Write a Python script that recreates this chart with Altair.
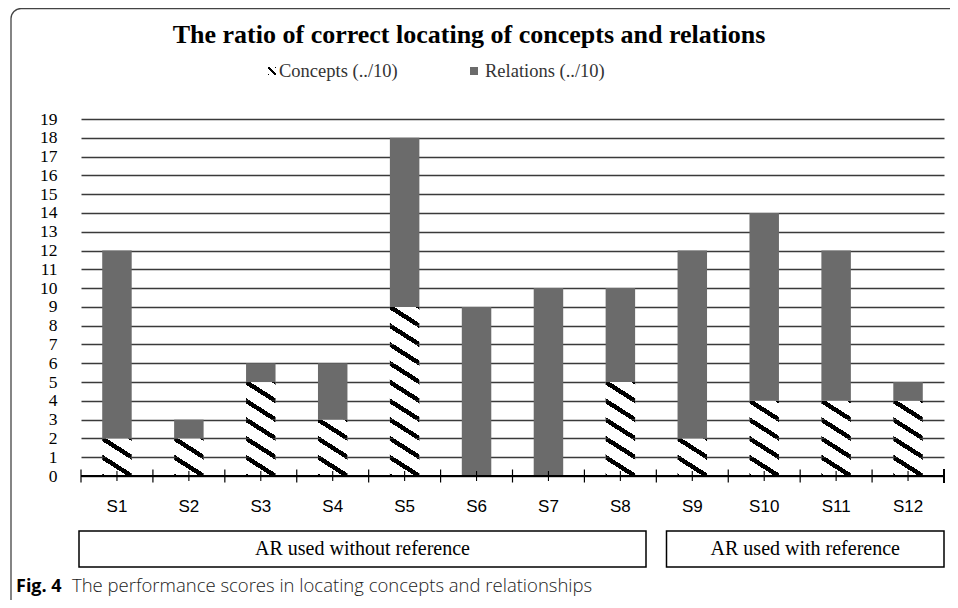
import altair as alt
import pandas as pd

# ---------------- data ----------------
students = ["S1", "S2", "S3", "S4", "S5", "S6", "S7", "S8", "S9", "S10", "S11", "S12"]
concepts = [2, 2, 5, 3, 9, 0, 0, 5, 2, 4, 4, 4]
relations = [10, 1, 1, 3, 9, 9, 10, 5, 10, 10, 8, 1]
series_names = ["Concepts (../10)", "Relations (../10)"]
group_names = ["AR used without reference", "AR used with reference"]
y_ticks = list(range(0, 20))
title_text = "The ratio of correct locating of concepts and relations"
caption_bold = "Fig. 4"
caption_text = "The performance scores in locating concepts and relationships"

# ---------------- layout (pixels) ----------------
W, H = 863, 357            # plot area
PAD_L, PAD_T = 73, 111     # plot origin inside the svg
TOTAL_W, TOTAL_H = 942, 592
OX, OY = PAD_L + 8, PAD_T + 8  # plot origin in page coordinates


def px(x):
    return x - OX


def py(y):
    return y - OY


SERIF = "Liberation Serif"
SANS = "Liberation Sans"
REL_COLOR = "#6b6b6b"

bars = pd.DataFrame({
    "student": students,
    "concepts": concepts,
    "relations": relations,
})
bars["total"] = bars["concepts"] + bars["relations"]

# unit blocks of the Concepts series (so that the stripe texture keeps its scale)
blocks = pd.DataFrame(
    [{"student": s, "lo": k, "hi": k + 1} for s, c in zip(students, concepts) for k in range(c)]
)

h = 0.07
stripe = alt.LinearGradient(
    gradient="linear",
    x1=0, y1=1, x2=1, y2=0,
    stops=[
        alt.GradientStop(color="black", offset=0),
        alt.GradientStop(color="black", offset=h),
        alt.GradientStop(color="white", offset=h),
        alt.GradientStop(color="white", offset=0.5 - h),
        alt.GradientStop(color="black", offset=0.5 - h),
        alt.GradientStop(color="black", offset=0.5 + h),
        alt.GradientStop(color="white", offset=0.5 + h),
        alt.GradientStop(color="white", offset=1 - h),
        alt.GradientStop(color="black", offset=1 - h),
        alt.GradientStop(color="black", offset=1),
    ],
)

xscale = alt.Scale(domain=students, paddingInner=0, paddingOuter=0)
yscale = alt.Scale(domain=[0, 19], nice=False)
BW = alt.RelativeBandSize(0.41)

x_axis = alt.Axis(
    labelAngle=0, ticks=False, domain=False, grid=False,
    labelFont=SANS, labelFontSize=17, labelColor="black",
    labelPadding=30, labelBaseline="middle",
)
y_axis = alt.Axis(
    values=y_ticks, grid=True, gridColor="#3a3a3a", gridWidth=1.4,
    ticks=False, domain=False, labelFont=SERIF, labelFontSize=17.5,
    labelColor="black", labelPadding=24, labelOverlap=False, labelFlush=False,
)


def xb(**kw):
    return alt.X("student:N", scale=xscale, sort=students, title=None, axis=x_axis, **kw)


def yq(field):
    return alt.Y(field, scale=yscale, axis=y_axis, title=None)


base = alt.Chart(bars)

under = base.mark_bar(color="white", width=BW).encode(
    x=xb(),
    y=yq("concepts:Q"),
    y2=alt.datum(0),
)

concept_layer = alt.Chart(blocks).mark_bar(fill=stripe, width=BW, strokeWidth=0).encode(
    x=xb(),
    y=yq("lo:Q"),
    y2="hi:Q",
)

rel_layer = base.mark_bar(color=REL_COLOR, width=BW).encode(
    x=xb(),
    y=yq("concepts:Q"),
    y2="total:Q",
)

edge_ticks = base.mark_rule(color="black", strokeWidth=1.2).encode(
    x=xb(bandPosition=0),
    y=alt.value(H - 6.5),
    y2=alt.value(H + 6.5),
)
mid_ticks = base.mark_rule(color="black", strokeWidth=1.1).encode(
    x=xb(),
    y=alt.value(H - 5),
    y2=alt.value(H + 5),
)

one = pd.DataFrame({"a": [0]})
end_tick = alt.Chart(one).mark_rule(color="black", strokeWidth=2).encode(
    x=alt.value(W), y=alt.value(H - 7), y2=alt.value(H + 7)
)
axis_line = alt.Chart(one).mark_rule(color="black", strokeWidth=2).encode(
    x=alt.value(0), x2=alt.value(W), y=alt.value(H), y2=alt.value(H)
)

frame = alt.Chart(one).mark_rect(
    filled=False, stroke="#444", strokeWidth=1.3, cornerRadius=10, clip=False
).encode(
    x=alt.value(px(11)), x2=alt.value(px(990)),
    y=alt.value(py(8.5)), y2=alt.value(py(640)),
)

title = alt.Chart(pd.DataFrame({"t": [title_text]})).mark_text(
    font=SERIF, fontSize=26, fontWeight="bold", color="black", align="center", baseline="middle"
).encode(text="t:N", x=alt.value(px(469)), y=alt.value(py(35)))

legend_df = pd.DataFrame({"name": series_names, "lx": [px(279), px(485)]})
legend_text = alt.Chart(legend_df).mark_text(
    font=SERIF, fontSize=18.5, color="#333", align="left", baseline="middle"
).encode(text="name:N", x=alt.X("lx:Q", scale=None), y=alt.value(py(71)))

icon_c = alt.Chart(one).mark_rect(fill=stripe).encode(
    x=alt.value(px(268)), x2=alt.value(px(276)), y=alt.value(py(67)), y2=alt.value(py(75))
)
icon_r = alt.Chart(one).mark_rect(fill=REL_COLOR).encode(
    x=alt.value(px(470)), x2=alt.value(px(478)), y=alt.value(py(67)), y2=alt.value(py(75))
)

groups_df = pd.DataFrame({
    "g": group_names,
    "x0": [px(79), px(666.5)],
    "x1": [px(646), px(944)],
})
groups_df["xc"] = (groups_df["x0"] + groups_df["x1"]) / 2
group_boxes = alt.Chart(groups_df).mark_rect(
    filled=False, stroke="black", strokeWidth=1.5, clip=False
).encode(
    x=alt.X("x0:Q", scale=None), x2="x1:Q",
    y=alt.value(py(531)), y2=alt.value(py(567)),
)
group_text = alt.Chart(groups_df).mark_text(
    font=SERIF, fontSize=20, color="black", align="center", baseline="middle"
).encode(text="g:N", x=alt.X("xc:Q", scale=None), y=alt.value(py(549)))

cap_b = alt.Chart(pd.DataFrame({"t": [caption_bold]})).mark_text(
    font="Open Sans", fontSize=18, fontWeight="bold", color="black", align="left", baseline="alphabetic"
).encode(text="t:N", x=alt.value(px(16)), y=alt.value(py(592)))
cap_t = alt.Chart(pd.DataFrame({"t": [caption_text]})).mark_text(
    font="Open Sans", fontSize=18.5, fontWeight=300, color="#222", align="left", baseline="alphabetic"
).encode(text="t:N", x=alt.value(px(72)), y=alt.value(py(592)))

chart = alt.layer(
    frame, under, concept_layer, rel_layer,
    edge_ticks, mid_ticks, end_tick, axis_line,
    title, legend_text, icon_c, icon_r, group_boxes, group_text, cap_b, cap_t,
).properties(
    width=W, height=H,
    autosize=alt.AutoSizeParams(type="none"),
    padding={"left": PAD_L, "top": PAD_T, "right": TOTAL_W - PAD_L - W, "bottom": TOTAL_H - PAD_T - H},
    background="white",
).configure_view(stroke=None)

chart.save("out.html", embed_options={"renderer": "svg", "actions": False})
